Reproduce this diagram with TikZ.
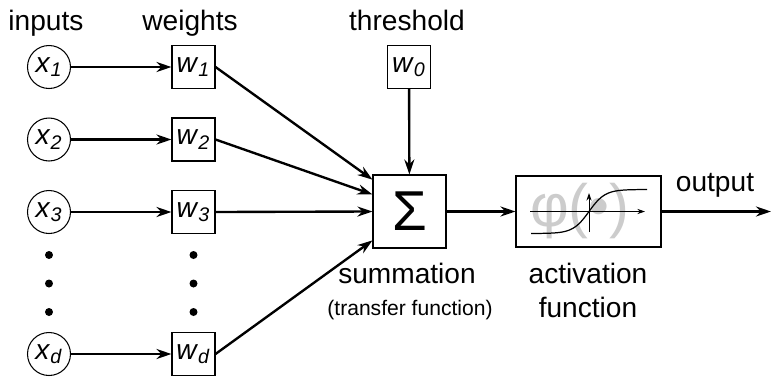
\documentclass[tikz,border=0pt]{standalone}
\usepackage{fontspec}
\setmainfont{Liberation Sans}
\usetikzlibrary{arrows.meta,calc}

\begin{document}
\begin{tikzpicture}[x=0.02cm,y=-0.02cm,
  every node/.style={font=\fontsize{16}{19}\selectfont},
  inp/.style={draw,circle,line width=0.6pt,minimum size=0.86cm,inner sep=0pt},
  wbox/.style={draw,line width=0.6pt,minimum size=0.86cm,inner sep=0pt},
  arr/.style={line width=1.35pt,-{Stealth[length=0.3cm,width=0.2cm]}},
  lbl/.style={anchor=base}]
  \useasboundingbox (0,0) rectangle (772,376);
  % inputs and weights
  \node[inp] (x1) at (49,67) {\textit{x}\textsubscript{\textit{1}}};
  \node[inp] (x2) at (49,139.5) {\textit{x}\textsubscript{\textit{2}}};
  \node[inp] (x3) at (49,212) {\textit{x}\textsubscript{\textit{3}}};
  \node[inp] (xd) at (49,354) {\textit{x}\textsubscript{\textit{d}}};
  \node[wbox] (w1) at (193.5,67) {\textit{w}\textsubscript{\textit{1}}};
  \node[wbox] (w2) at (193.5,139.5) {\textit{w}\textsubscript{\textit{2}}};
  \node[wbox] (w3) at (193.5,212) {\textit{w}\textsubscript{\textit{3}}};
  \node[wbox] (wd) at (193.5,354) {\textit{w}\textsubscript{\textit{d}}};
  \node[wbox] (w0) at (409,67) {\textit{w}\textsubscript{\textit{0}}};
  \foreach \y in {255,283.5,312} {
    \fill (49,\y) circle[radius=0.08cm];
    \fill (193.5,\y) circle[radius=0.08cm];
  }
  % summation and activation
  \node[draw,line width=0.6pt,minimum size=1.46cm,inner sep=0pt] (sum) at (409.5,211.5) {\fontsize{32}{32}\selectfont Σ};
  \node[draw,line width=0.6pt,minimum width=2.9cm,minimum height=1.42cm] (act) at (588.5,211.5) {};
  \node[text=black!20,font=\fontsize{34}{34}\selectfont] (phi) at (580,211) {φ(•)};
  \draw[line width=0.5pt,-{Stealth[length=0.15cm,width=0.1cm]}] (530,211.5) -- (645,211.5);
  \draw[line width=0.5pt,-{Stealth[length=0.15cm,width=0.1cm]}] (589,232) -- (589,193);
  \draw[line width=0.7pt] plot[domain=-58:58,samples=80,smooth] ({589+\x},{211.5-22*tanh(\x/16)});
  % labels
  \node[lbl] (tin) at (46,30) {inputs};
  \node[lbl] (twt) at (190,30) {weights};
  \node[lbl] (tth) at (407,30) {threshold};
  \node[lbl] (tsum) at (407,283) {summation};
  \node[lbl,font=\fontsize{12}{14}\selectfont] (ttf) at (410,315) {(transfer function)};
  \node[lbl] (tact) at (588,283) {activation};
  \node[lbl] (tfun) at (588,317) {function};
  \node[lbl] (tout) at (715,191) {output};
  % connectors
  \draw[arr] (x1) -- (w1);
  \draw[arr] (x2) -- (w2);
  \draw[arr] (x3) -- (w3);
  \draw[arr] (xd) -- (wd);
  \draw[arr] (w1.east) -- ($(sum.north west)!.07!(sum.south west)$);
  \draw[arr] (w2.east) -- ($(sum.north west)!.27!(sum.south west)$);
  \draw[arr] (w3.east) -- (sum.west);
  \draw[arr] (wd.east) -- ($(sum.north west)!.89!(sum.south west)$);
  \draw[arr] (w0) -- (sum);
  \draw[arr] (sum) -- (act);
  \coordinate (out) at (771,211.5);
  \draw[arr] (act) -- (out);
\end{tikzpicture}
\end{document}
